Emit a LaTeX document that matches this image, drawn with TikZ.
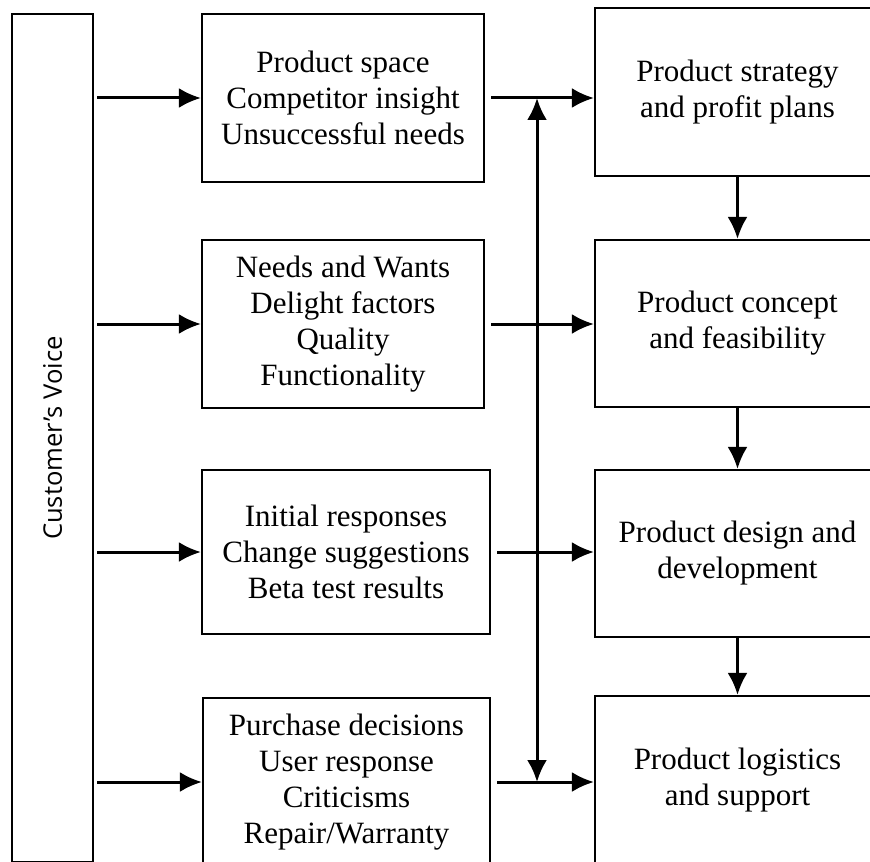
\documentclass[tikz,border=0pt]{standalone}
\usepackage{fontspec}
\setmainfont{Liberation Serif}
\newfontfamily\voicefont{Open Sans}
\usetikzlibrary{arrows.meta}
\tikzset{
  box/.style={draw,line width=1.1pt,inner sep=0pt,align=center,
    font=\fontsize{15.5}{18}\selectfont},
  flow/.style={-{Latex[length=11pt,width=10pt]},line width=1.5pt},
  twoway/.style={{Latex[length=11pt,width=10pt]}-{Latex[length=11pt,width=10pt]},line width=1.5pt},
}

\begin{document}
\begin{tikzpicture}[x=0.5pt,y=-0.5pt]
  \useasboundingbox (0,0) rectangle (870,861);
  \clip (0,0) rectangle (870,861);
  % customer column
  \node[box,minimum width=40.5pt,minimum height=424pt] (voice) at (52.5,438)
    {\rotatebox{90}{\voicefont\fontsize{12.8}{15}\selectfont Customer’s Voice}};
  % inputs
  \node[box,minimum width=141pt,minimum height=84pt] (in1) at (343,98)
    {Product space\\Competitor insight\\Unsuccessful needs};
  \node[box,minimum width=141pt,minimum height=84pt] (in2) at (343,324)
    {Needs and Wants\\Delight factors\\Quality\\Functionality};
  \node[box,minimum width=144pt,minimum height=82pt] (in3) at (346,552)
    {Initial responses\\Change suggestions\\Beta test results};
  \node[box,minimum width=143.5pt,minimum height=84pt] (in4) at (346.5,782)
    {Purchase decisions\\User response\\Criticisms\\Repair/Warranty};
  % stages
  \node[box,minimum width=142.5pt,minimum height=84pt] (st1) at (737.5,92)
    {Product strategy\\and profit plans};
  \node[box,minimum width=142.5pt,minimum height=83.5pt] (st2) at (737.5,323.5)
    {Product concept\\and feasibility};
  \node[box,minimum width=142.5pt,minimum height=83.5pt] (st3) at (737.5,553.5)
    {Product design and\\development};
  \node[box,minimum width=142.5pt,minimum height=84pt] (st4) at (737.5,780)
    {Product logistics\\and support};
  \coordinate (bus) at (537,0);

  \foreach \i in {1,...,4}{
    \draw[flow,shorten <=1.5pt] (voice.east |- in\i.west) -- (in\i.west);
    \draw[flow,shorten <=3pt] (in\i.east) -- (in\i.east -| st\i.west);
  }
  \draw[flow] (st1) -- (st2);
  \draw[flow] (st2) -- (st3);
  \draw[flow] (st3) -- (st4);
  \draw[twoway] (bus |- in1.east) -- (bus |- in4.east);
\end{tikzpicture}
\end{document}
